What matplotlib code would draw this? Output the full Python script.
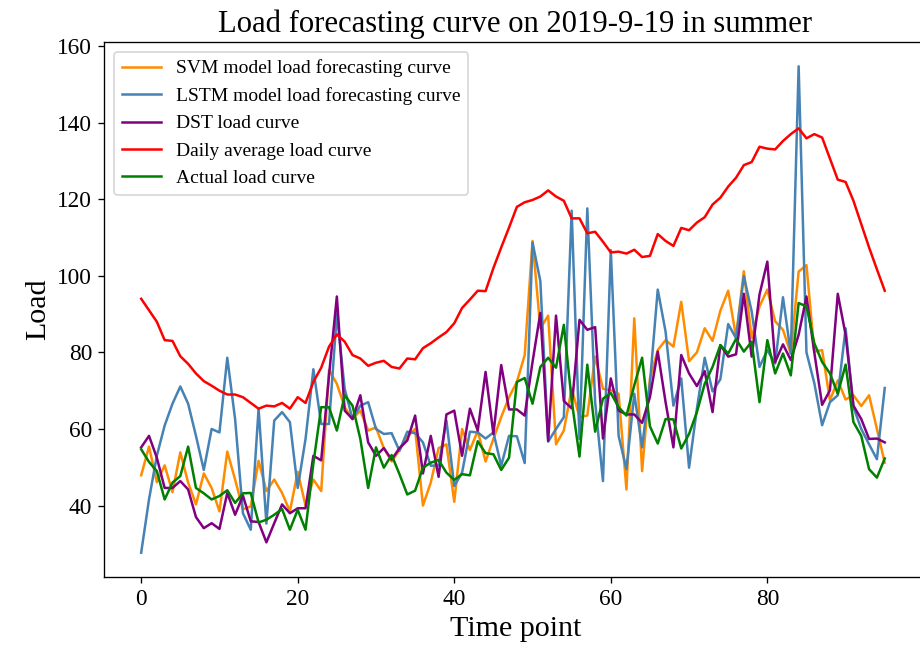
import matplotlib

matplotlib.use("Agg")
import matplotlib.pyplot as plt
import numpy as np

time_points = np.arange(96)

svm_load = [
    47.9, 55.4, 46.1, 50.5, 43.5, 53.9, 46.0, 40.3, 48.4, 44.6,
    38.5, 54.1, 46.8, 39.0, 39.8, 51.7, 43.8, 46.8, 43.3, 38.5,
    48.8, 40.0, 46.8, 43.8, 75.4, 71.8, 65.7, 62.6, 64.8, 59.6,
    60.4, 55.0, 51.5, 54.5, 58.0, 60.0, 40.0, 46.0, 55.0, 56.0,
    41.0, 60.0, 54.5, 59.5, 51.5, 57.4, 63.1, 68.3, 72.3, 79.3,
    109.1, 86.3, 89.6, 56.0, 59.6, 70.5, 63.1, 63.5, 78.9, 70.5,
    70.1, 69.2, 44.2, 88.9, 49.0, 73.2, 80.6, 83.2, 81.5, 93.2,
    77.7, 80.0, 86.3, 83.0, 90.9, 96.1, 84.1, 101.2, 83.7, 92.0,
    96.4, 88.1, 85.9, 79.7, 101.1, 102.8, 80.2, 80.6, 67.5, 72.7,
    67.7, 68.8, 66.0, 68.8, 60.0, 51.2,
]
lstm_load = [
    27.7, 41.6, 53.0, 60.9, 66.6, 71.1, 66.6, 58.2, 49.3, 60.0,
    59.1, 78.6, 62.6, 38.0, 33.7, 65.3, 35.3, 62.2, 64.4, 61.8,
    44.6, 57.4, 75.6, 61.3, 61.3, 90.0, 70.5, 62.6, 66.1, 67.0,
    60.0, 58.7, 58.9, 54.3, 59.3, 58.9, 56.5, 50.4, 50.5, 62.2,
    45.1, 48.6, 59.3, 59.1, 57.5, 59.1, 50.4, 58.2, 58.1, 51.1,
    108.7, 98.6, 56.7, 60.0, 63.1, 117.0, 57.4, 117.6, 67.0, 46.4,
    106.7, 58.2, 49.5, 69.2, 55.2, 72.0, 96.4, 85.4, 66.1, 73.2,
    49.9, 65.3, 78.6, 69.8, 73.0, 87.4, 83.7, 99.9, 90.7, 76.2,
    80.6, 77.1, 94.4, 79.7, 154.7, 80.0, 72.0, 61.0, 67.0, 68.8,
    86.3, 65.7, 60.0, 56.0, 52.1, 70.7,
]
dst_load = [
    55.2, 58.2, 52.5, 44.6, 44.6, 46.4, 44.2, 37.0, 34.1, 35.4,
    33.9, 43.3, 37.6, 42.6, 35.9, 35.7, 30.4, 35.4, 40.3, 38.0,
    39.3, 39.3, 53.0, 51.8, 74.0, 94.6, 64.8, 62.6, 68.8, 56.5,
    53.0, 55.0, 52.0, 55.0, 57.0, 63.5, 48.4, 58.2, 47.5, 63.8,
    64.8, 53.0, 65.3, 59.6, 74.9, 58.7, 76.7, 65.1, 65.1, 63.5,
    77.5, 90.3, 56.9, 89.6, 67.3, 65.4, 88.5, 85.9, 86.6, 57.5,
    73.2, 64.8, 63.8, 63.8, 61.6, 68.3, 80.2, 67.0, 55.2, 79.3,
    74.5, 71.2, 75.1, 64.4, 81.9, 78.9, 79.5, 95.3, 78.9, 95.1,
    103.7, 77.5, 82.1, 78.0, 84.6, 94.6, 80.0, 66.3, 70.1, 95.3,
    84.6, 66.1, 62.6, 57.4, 57.5, 56.5,
]
daily_avg_load = [
    94.0, 91.0, 88.0, 83.2, 83.0, 79.0, 77.0, 74.5, 72.5, 71.3,
    70.0, 69.0, 69.0, 68.3, 66.8, 65.3, 66.1, 65.9, 66.8, 65.3,
    68.3, 66.8, 72.3, 76.0, 81.5, 84.7, 82.8, 79.3, 78.4, 76.5,
    77.3, 77.8, 76.2, 75.8, 78.4, 78.2, 81.1, 82.4, 83.9, 85.3,
    87.6, 91.6, 93.8, 96.1, 96.0, 102.0, 107.4, 112.6, 118.0, 119.2,
    119.8, 120.7, 122.3, 120.7, 119.6, 115.0, 115.0, 111.1, 111.5, 108.9,
    106.1, 106.3, 105.8, 106.8, 104.9, 105.2, 110.9, 109.1, 107.8, 112.5,
    111.9, 113.9, 115.3, 118.6, 120.4, 123.3, 125.6, 128.9, 129.7, 133.7,
    133.2, 133.0, 135.2, 137.0, 138.5, 135.9, 137.0, 136.1, 130.6, 125.1,
    124.5, 119.6, 113.5, 107.4, 101.7, 96.1,
]
actual_load = [
    54.7, 51.4, 49.0, 41.6, 46.0, 47.7, 55.4, 44.6, 43.2, 41.6,
    42.5, 44.0, 40.7, 43.2, 43.3, 35.6, 36.3, 37.6, 39.1, 33.7,
    38.9, 33.7, 51.0, 65.7, 65.7, 59.6, 68.8, 66.1, 57.4, 44.6,
    55.2, 49.9, 53.2, 48.2, 42.9, 43.9, 49.9, 51.2, 51.9, 48.6,
    46.7, 48.2, 47.9, 56.8, 53.7, 53.4, 49.3, 52.5, 72.3, 73.3,
    66.6, 76.2, 78.6, 76.0, 87.2, 67.5, 52.8, 76.8, 59.3, 67.9,
    69.4, 65.7, 63.5, 71.4, 78.6, 60.7, 56.2, 62.6, 62.5, 54.9,
    58.7, 64.4, 71.8, 76.2, 81.9, 79.7, 83.5, 80.2, 82.8, 67.0,
    83.2, 74.5, 79.7, 74.0, 92.9, 92.0, 82.4, 77.5, 74.5, 69.2,
    76.8, 61.8, 58.2, 49.5, 47.3, 52.3,
]
x_ticks = [0, 20, 40, 60, 80]

plt.rcParams["font.family"] = ["Liberation Serif", "DejaVu Serif"]

# 120 dpi: fonts and lines come out ~1.2x as in the reference
fig = plt.figure(figsize=(920 / 120, 651 / 120), dpi=120)
# right spine sits just past the canvas edge, as in the reference
ax = fig.add_axes([104 / 920, 74 / 651, 823 / 920, 535 / 651])

ax.plot(time_points, svm_load, color="darkorange", lw=1.5, label="SVM model load forecasting curve")
ax.plot(time_points, lstm_load, color="steelblue", lw=1.5, label="LSTM model load forecasting curve")
ax.plot(time_points, dst_load, color="purple", lw=1.5, label="DST load curve")
ax.plot(time_points, daily_avg_load, color="red", lw=1.5, label="Daily average load curve")
ax.plot(time_points, actual_load, color="green", lw=1.5, label="Actual load curve")

ax.set_xlim(-4.75, 100.4)
ax.set_xticks(x_ticks)

ax.set_title("Load forecasting curve on 2019-9-19 in summer", fontsize=18.4)
ax.set_xlabel("Time point", fontsize=18)
ax.set_ylabel("Load", fontsize=18)
ax.tick_params(labelsize=14)
ax.legend(loc="upper left", fontsize=11.7)

fig.savefig("out.png", dpi=120)
